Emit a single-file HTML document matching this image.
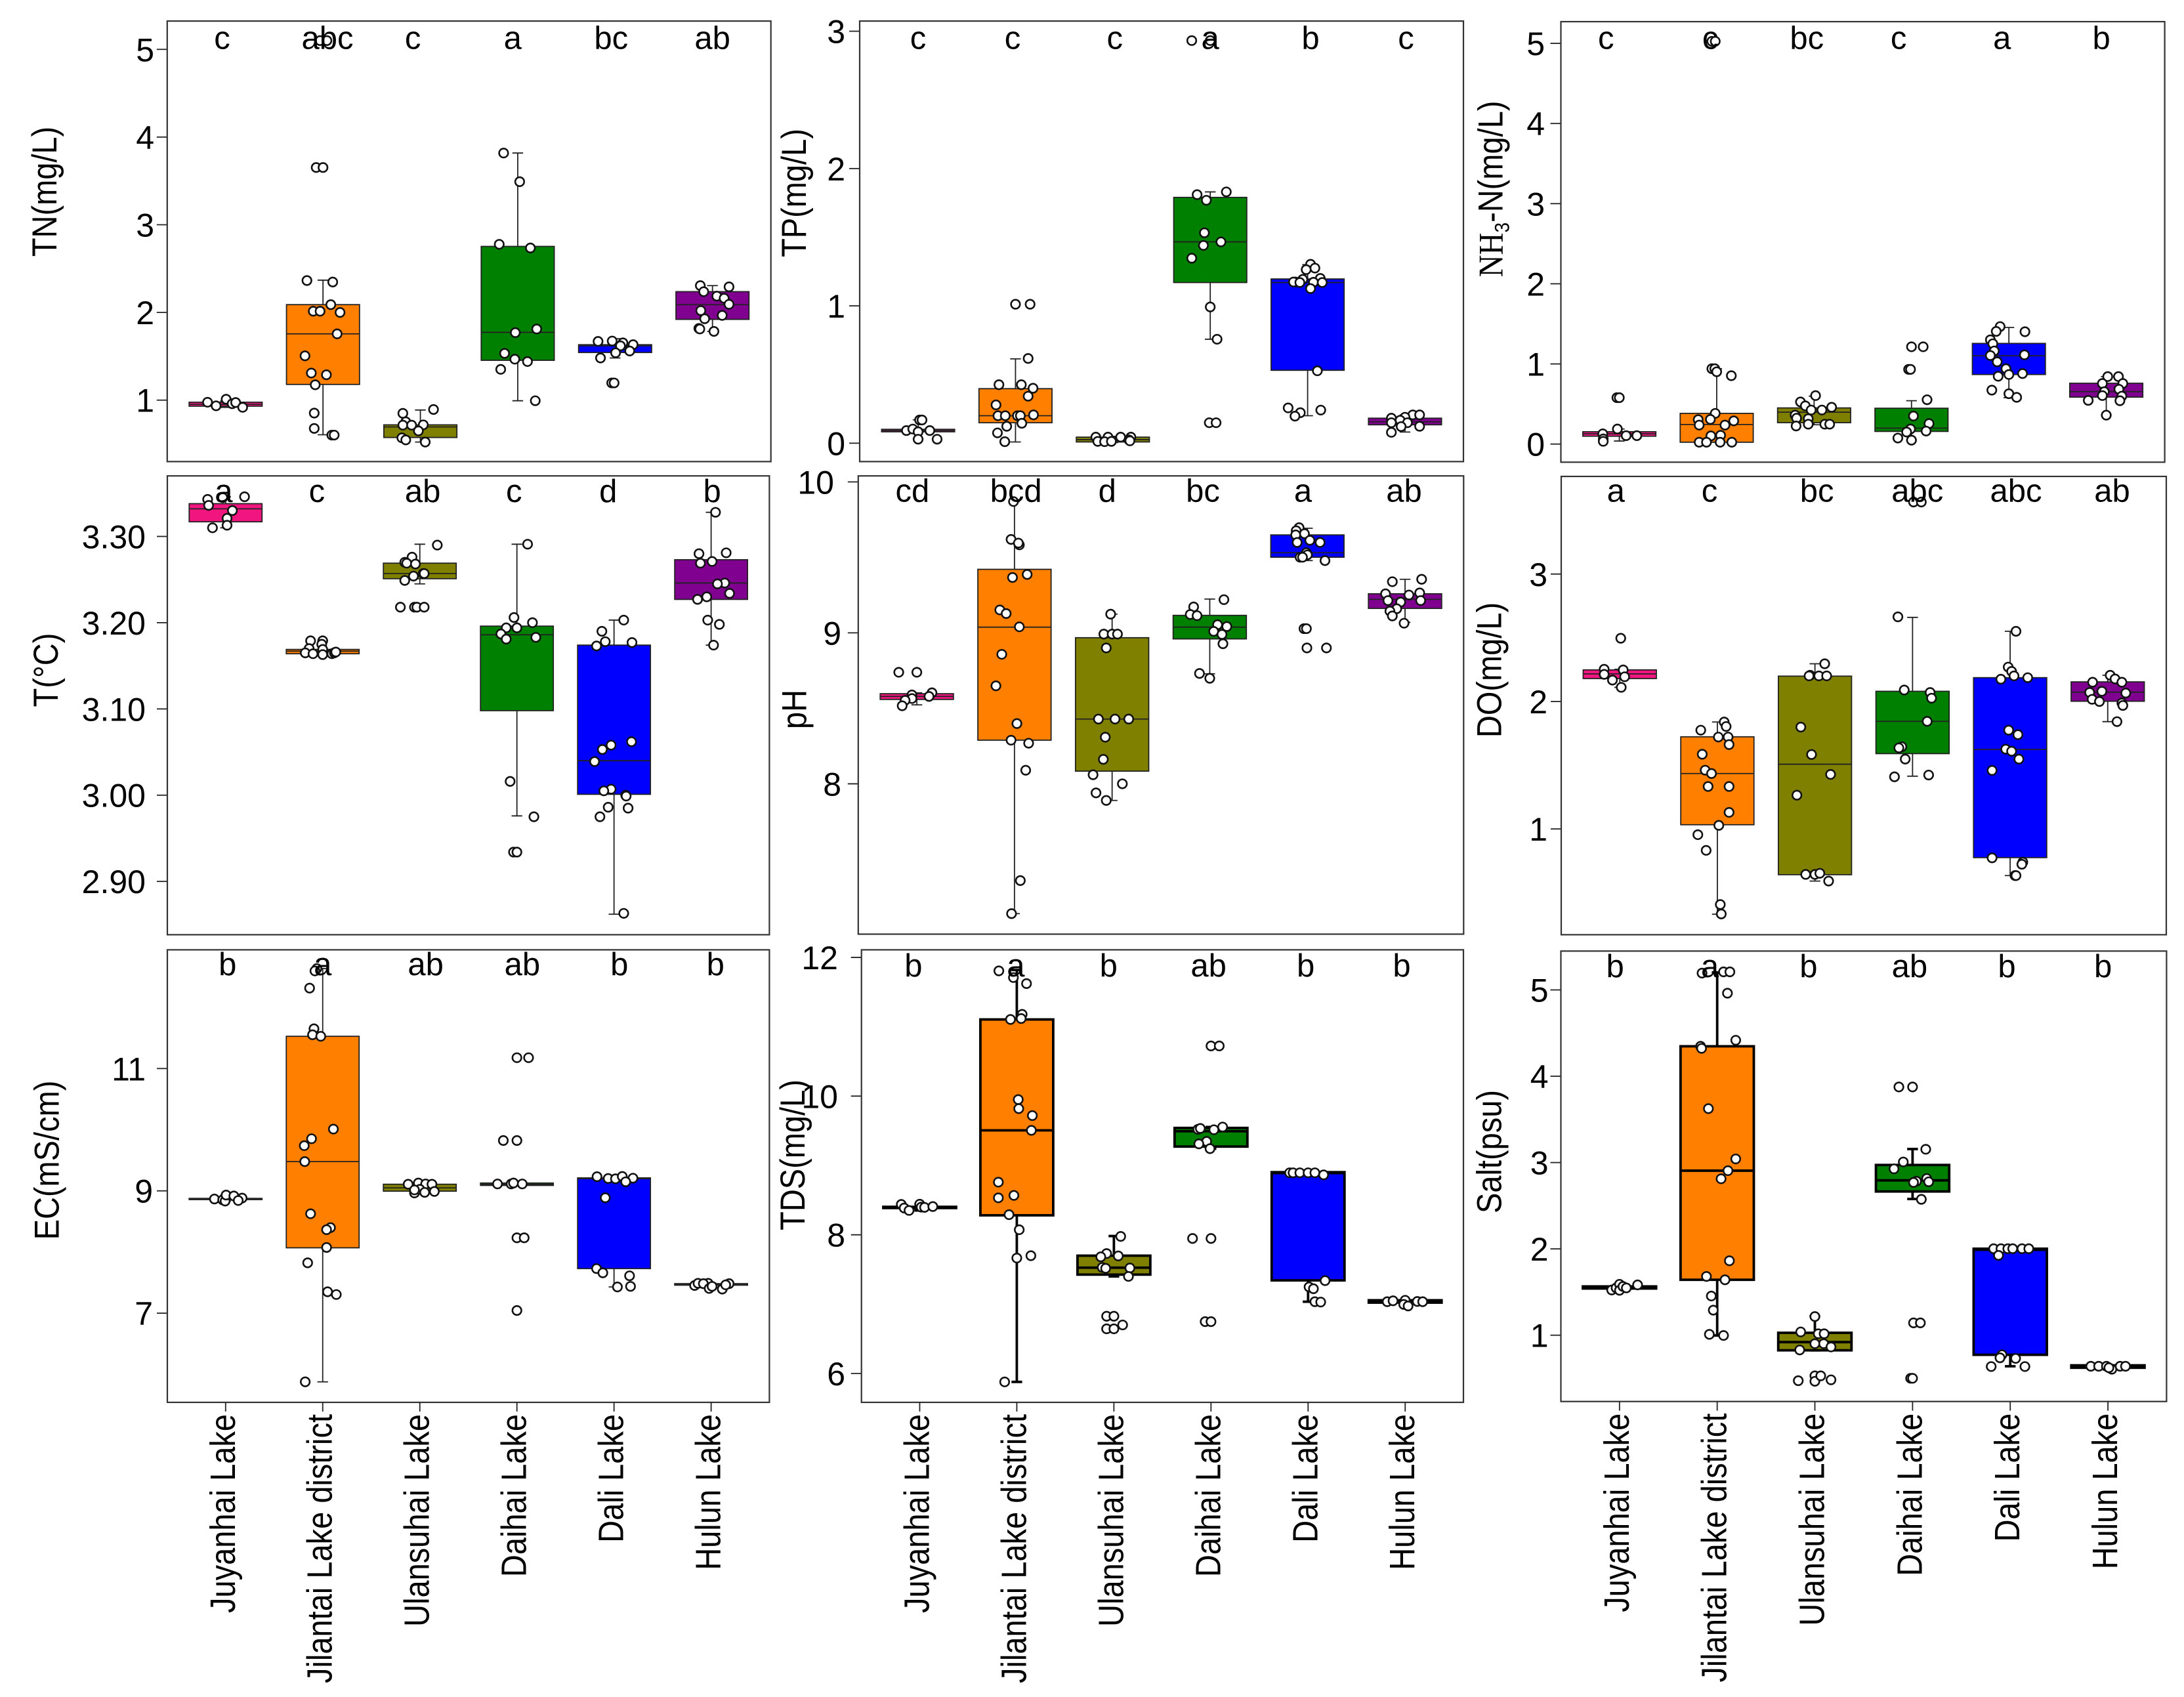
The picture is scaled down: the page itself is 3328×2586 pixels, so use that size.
<!DOCTYPE html>
<html lang="en">
<head>
<meta charset="utf-8">
<title>Water quality boxplots by lake</title>
<style>
html,body{margin:0;padding:0;background:#fff;}
svg{display:block;}
text{font-family:"Liberation Sans",sans-serif;fill:#000;}
</style>
</head>
<body>
<svg id="chart" xmlns="http://www.w3.org/2000/svg" width="3328" height="2586" viewBox="0 0 3328 2586"></svg>
<script>
const categories = ['Juyanhai Lake','Jilantai Lake district','Ulansuhai Lake','Daihai Lake','Dali Lake','Hulun Lake'];
const categoryColors = ['#f0157f','#ff7f00','#808000','#008000','#0000ff','#800090'];

/* TN */
const tnTicks = ['1','2','3','4','5'];
const tnLetters = ['c','abc','c','a','bc','ab'];
const tnLetterShift = [-.036,.046,-.077,-.052,-.041,0];
const tnLow = [.918,.605,.522,.993,1.481,1.784];
const tnQ1 = [.931,1.179,.574,1.454,1.543,1.921];
const tnMedian = [.952,1.756,.694,1.773,1.619,2.089];
const tnQ3 = [.976,2.089,.718,2.753,1.632,2.237];
const tnHigh = [.99,2.368,.887,3.818,1.7,2.306];
const tnValues = [
 [.976,.935,1.01,.959,.973,.918],
 [5.10,5.10,3.653,3.653,2.364,2.347,2.089,2.014,2.014,2.0,1.756,1.505,1.309,1.289,1.175,.852,.677,.601,.601],
 [.893,.849,.753,.715,.715,.718,.649,.570,.546,.522],
 [3.818,3.491,2.777,2.735,1.811,1.770,1.533,1.467,1.44,1.351,.993],
 [1.67,1.674,1.653,1.619,1.632,1.56,1.54,1.481,1.196,1.196],
 [2.306,2.237,2.292,2.186,2.162,2.093,2.021,1.966,1.928,1.818,1.811,1.784]];
const tnJitter = [
 [-.186,-.098,.005,.067,.103,.175],
 [-.03,.04,-.07,0,-.165,.1,.08,-.1,-.03,.175,.145,-.185,-.12,.035,-.08,-.09,-.09,.09,.115],
 [.135,-.18,-.15,-.18,-.09,.03,-.02,-.19,-.15,.05],
 [-.145,.02,-.19,.13,.195,-.025,-.135,-.03,.1,-.175,.18],
 [-.175,-.03,.08,.055,.185,.15,.005,-.15,-.035,-.01],
 [-.125,-.09,.17,.045,.12,.17,-.12,.1,-.08,-.14,-.13,.015]];

/* TP */
const tpTicks = ['0','1','2','3'];
const tpLetters = ['c','c','c','a','b','c'];
const tpLetterShift = [0,-.03,.02,0,.03,.01];
const tpLow = [.03,.009,.005,.757,.2,.081];
const tpQ1 = [.083,.149,.009,1.17,.531,.134];
const tpMedian = [.092,.2,.026,1.466,1.17,.156];
const tpQ3 = [.101,.397,.044,1.79,1.196,.182];
const tpHigh = [.17,.614,.05,1.83,1.3,.206];
const tpValues = [
 [.169,.169,.092,.103,.083,.092,.029,.029],
 [1.012,1.012,.617,.426,.426,.4,.342,.279,.2,.2,.2,.206,.2,.145,.123,.075,.011,.011],
 [.044,.044,.044,.044,.013,.011,.013,.024,.017],
 [2.932,2.932,1.83,1.81,1.769,1.532,1.466,1.44,1.347,.992,.757,.149,.149],
 [1.303,1.275,1.264,1.2,1.193,1.174,1.174,1.17,1.172,1.17,1.126,.527,.257,.222,.197,.241],
 [.206,.206,.182,.189,.167,.149,.149,.123,.121,.079]];
const tpJitter = [
 [.015,.04,-.12,-.055,0,.12,0,.195],
 [0,.15,.13,-.17,.06,.18,.13,-.2,-.18,-.105,.02,.185,.05,.065,-.09,-.185,-.11,-.11],
 [-.175,-.05,.08,.185,-.155,-.085,-.015,.165,.175],
 [-.19,0,.165,-.135,-.04,-.06,.11,-.07,-.19,0,.07,-.01,.06],
 [.03,.075,-.015,.13,-.05,-.125,-.145,-.08,.06,.15,.03,.1,-.2,-.075,-.13,.135],
 [.08,.15,-.14,0,-.05,-.14,.025,.15,-.04,-.14]];

/* NH3-N */
const nhTicks = ['0','1','2','3','4','5'];
const nhLetters = ['c','c','bc','c','a','b'];
const nhLetterShift = [-.137,-.066,-.075,-.132,-.07,-.05];
const nhLow = [.038,.023,.241,.049,.579,.361];
const nhQ1 = [.098,.023,.267,.158,.868,.586];
const nhMedian = [.128,.244,.398,.199,1.102,.654];
const nhQ3 = [.154,.383,.451,.447,1.256,.759];
const nhHigh = [.188,.94,.598,.541,1.455,.842];
const nhValues = [
 [.579,.579,.188,.128,.105,.105,.064,.034],
 [5.026,5.026,.94,.94,.902,.853,.383,.305,.308,.289,.237,.237,.102,.109,.023,.023,.023,.023],
 [.605,.526,.477,.459,.425,.425,.361,.323,.316,.226,.248,.248,.248],
 [1.214,1.214,.932,.932,.553,.35,.256,.188,.15,.162,.075,.049],
 [1.466,1.406,1.402,1.301,1.252,1.162,1.105,1.113,1.026,.94,.88,.868,.846,.673,.628,.583],
 [.842,.842,.756,.756,.684,.654,.605,.598,.541,.545,.361]];
const nhJitter = [
 [-.025,0,-.02,-.17,.07,.18,-.165,-.165],
 [-.05,-.015,-.05,-.02,0,.15,-.015,-.19,-.065,.175,-.18,.085,-.06,.04,-.18,-.105,.035,.155],
 [.015,-.14,-.09,.18,.08,-.03,-.195,-.18,-.06,-.185,-.06,.11,.16],
 [0,.12,-.03,-.01,.16,.02,.18,-.01,-.05,.15,-.14,0],
 [-.09,-.13,.165,-.19,-.165,-.15,-.19,.16,-.12,-.03,.14,0,-.11,-.175,0,.08],
 [.015,.125,-.04,.17,.13,-.02,-.04,.16,.14,-.185,0]];

/* T */
const tempTicks = ['2.90','3.00','3.10','3.20','3.30'];
const tempLetters = ['a','c','ab','c','d','b'];
const tempLetterShift = [-.02,-.06,.03,-.03,-.06,.01];
const tempLow = [3.31,3.163,3.245,2.976,2.862,3.174];
const tempQ1 = [3.317,3.164,3.251,3.098,3.001,3.227];
const tempMedian = [3.332,3.167,3.257,3.186,3.04,3.246];
const tempQ3 = [3.338,3.169,3.269,3.196,3.174,3.273];
const tempHigh = [3.346,3.179,3.291,3.291,3.203,3.328];
const tempValues = [
 [3.346,3.343,3.336,3.33,3.321,3.313,3.31,3.345],
 [3.179,3.179,3.175,3.17,3.169,3.165,3.164,3.163,3.164,3.165,3.166],
 [3.29,3.276,3.27,3.269,3.268,3.257,3.257,3.254,3.249,3.218,3.218,3.218,3.218],
 [3.291,3.206,3.2,3.194,3.194,3.187,3.183,3.181,3.016,2.975,2.934,2.934],
 [3.203,3.19,3.178,3.177,3.173,3.062,3.058,3.053,3.039,3.007,3.005,3.0,2.999,2.986,2.985,2.975,2.863],
 [3.328,3.28,3.281,3.269,3.271,3.246,3.245,3.234,3.23,3.227,3.203,3.198,3.174]];
const tempJitter = [
 [.195,-.185,-.175,.07,.015,.015,-.135,-.03],
 [-.125,0,-.01,-.14,0,-.18,-.1,0,.095,.12,.135],
 [.18,-.08,-.155,-.135,-.045,.035,.045,-.065,-.155,-.2,-.055,-.03,.045],
 [.11,-.03,.16,-.11,0,-.165,.195,-.11,-.07,.175,-.035,0],
 [.1,-.125,-.09,.185,-.18,.18,-.03,-.12,-.2,-.03,-.105,.12,.125,-.06,.145,-.145,.1],
 [.045,-.125,.155,-.11,.01,.14,.065,.19,-.045,-.14,-.035,.085,.025]];

/* pH */
const phTicks = ['8','9','10'];
const phLetters = ['cd','bcd','d','bc','a','ab'];
const phLetterShift = [-.045,.015,-.05,-.07,-.045,-.01];
const phLow = [8.523,7.14,7.89,8.729,9.479,9.07];
const phQ1 = [8.559,8.289,8.084,8.96,9.501,9.162];
const phMedian = [8.579,9.038,8.429,9.038,9.531,9.222];
const phQ3 = [8.597,9.421,8.968,9.116,9.649,9.259];
const phHigh = [8.603,9.87,9.124,9.224,9.693,9.355];
const phValues = [
 [8.739,8.739,8.603,8.589,8.579,8.565,8.553,8.517],
 [9.87,9.619,9.583,9.595,9.387,9.367,9.152,9.128,9.04,8.858,8.649,8.399,8.289,8.269,8.09,7.359,7.14],
 [9.124,8.992,8.992,8.992,8.9,8.429,8.429,8.429,8.309,8.162,8.06,8.0,7.94,7.89],
 [9.22,9.172,9.122,9.114,9.054,9.042,9.01,8.99,8.928,8.731,8.699],
 [9.697,9.677,9.657,9.649,9.613,9.599,9.599,9.531,9.517,9.501,9.501,9.479,9.028,9.028,8.9,8.9],
 [9.355,9.339,9.265,9.259,9.251,9.214,9.204,9.214,9.16,9.144,9.112,9.064]];
const phJitter = [
 [-.185,0,.155,-.05,.125,-.05,-.12,-.15],
 [-.01,-.035,.05,.04,.13,-.02,-.15,-.085,.05,-.13,-.19,.025,-.035,.145,.115,.06,-.03],
 [-.015,-.085,0,.055,-.06,-.14,.03,.17,-.07,-.09,-.195,.105,-.165,-.06],
 [.145,-.165,-.2,-.13,.08,.175,.04,.125,.135,-.105,0],
 [-.085,-.115,-.03,-.12,.025,.13,-.105,-.01,0,-.075,-.05,.18,-.035,-.01,-.005,.195],
 [.17,-.13,.15,-.2,.04,-.175,-.045,.16,-.085,-.155,-.13,-.01]];

/* DO */
const doTicks = ['1','2','3'];
const doLetters = ['a','c','bc','abc','abc','ab'];
const doLetterShift = [-.04,-.08,.02,.05,.06,.045];
const doLow = [2.111,.331,.591,1.414,.634,1.842];
const doQ1 = [2.18,1.033,.641,1.591,.775,2.002];
const doMedian = [2.217,1.435,1.508,1.844,1.624,2.073];
const doQ3 = [2.248,1.723,2.199,2.08,2.187,2.154];
const doHigh = [2.253,1.839,2.296,2.66,2.551,2.206];
const doValues = [
 [2.496,2.253,2.248,2.213,2.194,2.168,2.111],
 [1.839,1.804,1.775,1.721,1.721,1.662,1.586,1.461,1.435,1.333,1.333,1.13,1.028,.955,.832,.407,.333],
 [2.296,2.206,2.201,2.201,2.201,1.799,1.584,1.428,1.265,.643,.643,.652,.591],
 [2.664,2.09,2.071,2.026,1.844,1.645,1.636,1.548,1.423,1.409,3.565,3.565],
 [2.551,2.27,2.236,2.201,2.175,2.187,1.775,1.74,1.626,1.61,1.548,1.459,.773,.74,.723,.634,.634],
 [2.206,2.177,2.151,2.151,2.071,2.08,2.066,2.017,2.0,1.988,1.969,1.842]];
const doJitter = [
 [.01,-.16,.035,-.16,.05,-.075,.015],
 [.07,.09,-.17,.01,.11,.12,-.155,-.125,-.06,-.095,.12,.12,.015,-.2,-.115,.03,.04],
 [.1,-.05,-.06,.04,.12,-.145,-.035,.16,-.185,-.095,0,.05,.14],
 [-.15,-.085,.18,.195,.15,-.11,-.14,-.075,.165,-.185,.01,.09],
 [.06,-.02,.015,.04,-.095,.18,-.015,.08,-.045,.015,.09,-.185,-.185,.13,.12,.05,.06],
 [.025,.075,-.155,.145,-.185,-.06,.185,-.16,-.085,.145,.155,.095]];

/* EC */
const ecTicks = ['7','9','11'];
const ecLetters = ['b','a','ab','ab','b','b'];
const ecLetterShift = [.02,0,.06,.055,.055,.045];
const ecLow = [8.833,5.877,8.966,9.089,7.429,7.394];
const ecQ1 = [8.857,8.069,8.995,9.089,7.729,7.458];
const ecMedian = [8.867,9.478,9.049,9.108,9.2,7.47];
const ecQ3 = [8.877,11.527,9.108,9.128,9.212,7.483];
const ecHigh = [8.931,12.635,9.128,9.128,9.236,7.488];
const ecValues = [
 [8.867,8.852,8.833,8.931,8.916,8.882,8.842],
 [12.635,12.596,12.315,11.65,11.552,11.527,10.01,9.852,9.739,9.478,8.626,8.399,8.365,8.074,7.823,7.35,7.305,5.877],
 [9.108,9.128,9.113,9.108,8.966,9.025,8.975,8.99,9.015],
 [11.177,11.177,9.823,9.823,9.113,9.113,9.128,9.113,8.232,8.232,7.044],
 [9.232,9.202,9.197,9.236,9.207,9.148,8.887,7.729,7.66,7.611,7.429,7.438],
 [7.453,7.488,7.488,7.483,7.404,7.394,7.483,7.463,7.438]];
const ecJitter = [
 [-.115,-.03,-.005,.005,.085,.17,.13],
 [-.06,-.08,-.135,-.09,-.105,-.02,.11,-.115,-.19,-.185,-.125,.08,.04,.04,-.155,.05,.14,-.18],
 [-.12,-.015,.06,.125,-.055,0,.05,.15,-.055],
 [0,.12,-.14,0,-.2,-.06,-.035,.055,0,.075,0],
 [-.175,-.06,.015,.085,.195,.12,-.09,-.18,-.115,.16,.035,.17],
 [-.17,-.135,-.03,-.08,-.02,.115,.185,.15,.01]];

/* TDS */
const tdsTicks = ['6','8','10','12'];
const tdsLetters = ['b','a','b','ab','b','b'];
const tdsLetterShift = [-.065,-.01,-.055,-.025,-.025,-.035];
const tdsLow = [8.351,5.879,7.4,9.242,7.035,7.0];
const tdsQ1 = [8.386,8.281,7.426,9.272,7.343,7.022];
const tdsMedian = [8.395,9.506,7.526,9.493,8.89,7.04];
const tdsQ3 = [8.403,11.105,7.699,9.541,8.903,7.056];
const tdsHigh = [8.442,11.818,7.982,9.554,8.903,7.056];
const tdsValues = [
 [8.438,8.386,8.351,8.442,8.399,8.395,8.407],
 [11.805,11.709,11.622,11.179,11.105,11.118,9.95,9.819,9.719,9.506,8.759,8.568,8.533,8.29,8.073,7.699,7.665,5.879],
 [7.977,7.73,7.682,7.695,7.53,7.517,7.521,7.4,6.826,6.826,6.7,6.644,6.644],
 [10.723,10.723,9.52,9.533,9.515,9.554,9.346,9.311,9.242,7.947,7.947,6.748,6.748],
 [8.894,8.894,8.894,8.894,8.894,8.864,7.339,7.248,7.222,7.035,7.03],
 [7.035,7.048,7.056,6.996,6.974,7.039,7.035]];
const tdsJitter = [
 [-.19,-.16,-.11,0,.015,.05,.135],
 [-.185,-.035,.1,.055,-.065,.045,.015,.02,.16,.15,-.19,-.03,-.19,-.08,.025,.145,0,-.125],
 [.07,-.075,-.135,.045,-.12,-.085,.165,.15,-.075,0,.09,-.075,0],
 [0,.085,-.135,-.11,.03,.12,-.045,-.125,-.01,-.19,0,-.06,0],
 [-.19,-.155,-.085,0,.07,.16,.175,.01,.055,.07,.13],
 [-.185,-.125,0,-.015,.03,.125,.18]];

/* Salt */
const saltTicks = ['1','2','3','4','5'];
const saltLetters = ['b','a','b','ab','b','b'];
const saltLetterShift = [-.045,-.075,-.065,-.03,-.035,-.05];
const saltLow = [1.52,.997,.825,2.578,.64,.606];
const saltQ1 = [1.541,1.642,.825,2.665,.773,.623];
const saltMedian = [1.553,2.906,.92,2.794,1.99,.637];
const saltQ3 = [1.565,4.347,1.028,2.972,2.002,.651];
const saltHigh = [1.59,5.202,1.22,3.157,2.002,.651];
const saltValues = [
 [1.524,1.548,1.59,1.52,1.565,1.548,1.583],
 [5.195,5.209,5.209,4.962,4.417,4.347,4.323,3.625,3.042,2.906,2.812,1.862,1.681,1.642,1.454,1.29,1.01,.997],
 [1.216,1.038,1.017,1.017,.902,.902,.864,.829,.529,.466,.529,.473,.483],
 [3.154,3.007,2.927,2.815,2.784,2.777,2.77,2.574,1.143,1.143,.501,.501,3.876,3.876],
 [2.002,2.002,2.002,2.002,2.002,2.002,1.925,.773,.738,.731,.637,.637],
 [.64,.64,.64,.606,.64,.64,.623]];
const saltJitter = [
 [-.08,-.035,0,0,.035,.07,.185],
 [-.155,.065,.13,.105,.19,-.17,-.16,-.09,.19,.11,.04,.125,-.11,.08,-.06,-.04,-.08,.065],
 [0,-.145,.035,.095,.09,0,.165,-.155,0,0,.06,-.17,.165],
 [.135,-.095,-.19,.145,.04,.165,.01,.09,.01,.08,-.02,0,-.14,0],
 [-.17,-.095,-.025,.025,.12,.19,-.12,-.085,-.105,.055,-.195,.15],
 [-.175,-.095,-.015,.04,.125,.18,.01]];

const SVGNS = 'http://www.w3.org/2000/svg';
const root = document.getElementById('chart');

function mk(parent, tag, attrs, text) {
  const el = document.createElementNS(SVGNS, tag);
  for (const k in attrs) el.setAttribute(k, attrs[k]);
  if (text !== undefined) el.textContent = text;
  parent.appendChild(el);
  return el;
}

function drawPanel(p) {
  const g = mk(root, 'g', {});
  
  

  /* axis functions */
  const xScale = c => p.left + (c - 0.4) / 6.2 * (p.right - p.left);
  const xUnit = (p.right - p.left) / 6.2;
  const yScale = v => p.bottom - (v - p.yMin) / (p.yMax - p.yMin) * (p.bottom - p.top);

  /* y ticks */
  p.ticks.forEach(label => {
    const y = yScale(parseFloat(label));
    const t = mk(g, 'line', {x1: p.left - 16, x2: p.left, y1: y, y2: y, stroke: '#222', 'stroke-width': 1.8});
    
    
    const endX = label.length > 1 ? p.tickLabelRight - 11 : p.tickLabelRight;
    const lb = mk(g, 'text', {x: endX, y: y + 18, 'text-anchor': 'end', 'font-size': 50}, label);
    
    
  });

  /* boxes */
  categories.forEach((cat, i) => {
    const cx = xScale(i + 1);
    const halfBox = xUnit * 0.375;
    const halfCap = xUnit * 0.055;
    const box = mk(g, 'g', {});
    
    
    const sw = p.stroke;
    const col = p.stroke > 2 ? '#000' : '#222';
    const wh = mk(box, 'path', {
      d: 'M' + cx + ' ' + yScale(p.high[i]) + 'V' + yScale(p.q3[i]) +
         'M' + cx + ' ' + yScale(p.q1[i]) + 'V' + yScale(p.low[i]) +
         'M' + (cx - halfCap) + ' ' + yScale(p.high[i]) + 'H' + (cx + halfCap) +
         'M' + (cx - halfCap) + ' ' + yScale(p.low[i]) + 'H' + (cx + halfCap),
      stroke: col, 'stroke-width': sw, fill: 'none'});
    
    
    const yTop = yScale(p.q3[i]);
    const yBot = yScale(p.q1[i]);
    const r = mk(box, 'rect', {x: cx - halfBox, y: yTop, width: halfBox * 2, height: Math.max(yBot - yTop, 0.5),
      fill: categoryColors[i], stroke: col, 'stroke-width': sw});
    
    
    const m = mk(box, 'line', {x1: cx - halfBox, x2: cx + halfBox, y1: yScale(p.median[i]), y2: yScale(p.median[i]),
      stroke: col, 'stroke-width': sw});
    
    
  });

  /* jittered points */
  categories.forEach((cat, i) => {
    p.values[i].forEach((v, j) => {
      const c = mk(g, 'circle', {cx: xScale(i + 1 + p.jitter[i][j]), cy: yScale(v), r: 6.8,
        fill: '#fff', stroke: '#111', 'stroke-width': 2.6});
      
      
    });
  });

  /* significance letters */
  p.letters.forEach((s, i) => {
    const t = mk(g, 'text', {x: xScale(i + 1 + p.letterShift[i]), y: p.letterY + 1, 'text-anchor': 'middle', 'font-size': 49}, s);
    
    
  });

  /* frame */
  const f = mk(g, 'rect', {x: p.left, y: p.top, width: p.right - p.left, height: p.bottom - p.top,
    fill: 'none', stroke: '#333', 'stroke-width': 2.2});
  
  

  /* y title */
  const title = mk(g, 'text', {transform: 'translate(' + p.titleX + ' ' + p.titleY + ') rotate(-90) scale(1 1.12)',
    'text-anchor': 'middle', 'font-size': 47});
  
  
  if (p.key === 'nh3') {
    mk(title, 'tspan', {style: 'font-family:"Liberation Serif",serif'}, 'NH');
    mk(title, 'tspan', {dy: 9, 'font-size': 28}, '3');
    mk(title, 'tspan', {dy: -9}, '-N(mg/L)');
  } else {
    title.textContent = p.title;
  }

  /* x axis on bottom row */
  if (p.showX) {
    categories.forEach((cat, i) => {
      const x = xScale(i + 1);
      const t = mk(g, 'line', {x1: x, x2: x, y1: p.bottom, y2: p.bottom + 14, stroke: '#222', 'stroke-width': 1.8});
      
      
      const lb = mk(g, 'text', {transform: 'translate(' + (x + 14) + ' ' + (p.bottom + 18) + ') rotate(-90) scale(1 1.14)',
        'text-anchor': 'end', 'font-size': 47}, cat);
      
      
    });
  }
}

drawPanel({key:'tn', title:'TN(mg/L)', left:254.8, right:1174.7, top:32.1, bottom:703.4, yMin:.299, yMax:5.323,
  ticks:tnTicks, letters:tnLetters, letterShift:tnLetterShift, low:tnLow, q1:tnQ1, median:tnMedian, q3:tnQ3, high:tnHigh,
  values:tnValues, jitter:tnJitter, stroke:1.8, tickLabelRight:235, letterY:73.5, titleX:86, titleY:292});
drawPanel({key:'tp', title:'TP(mg/L)', left:1310, right:2230, top:32.1, bottom:703.4, yMin:-.134, yMax:3.074,
  ticks:tpTicks, letters:tpLetters, letterShift:tpLetterShift, low:tpLow, q1:tpQ1, median:tpMedian, q3:tpQ3, high:tpHigh,
  values:tpValues, jitter:tpJitter, stroke:1.8, tickLabelRight:1288, letterY:73.5, titleX:1228, titleY:294});
drawPanel({key:'nh3', title:'NH3-N(mg/L)', left:2378.5, right:3298.6, top:33, bottom:704.3, yMin:-.226, yMax:5.271,
  ticks:nhTicks, letters:nhLetters, letterShift:nhLetterShift, low:nhLow, q1:nhQ1, median:nhMedian, q3:nhQ3, high:nhHigh,
  values:nhValues, jitter:nhJitter, stroke:1.8, tickLabelRight:2354, letterY:73.5, titleX:2289.5, titleY:288});
drawPanel({key:'temperature', title:'T(°C)', left:255, right:1172.4, top:725.2, bottom:1424.4, yMin:2.8382, yMax:3.3702,
  ticks:tempTicks, letters:tempLetters, letterShift:tempLetterShift, low:tempLow, q1:tempQ1, median:tempMedian, q3:tempQ3, high:tempHigh,
  values:tempValues, jitter:tempJitter, stroke:1.8, tickLabelRight:233, letterY:764, titleX:88, titleY:1021});
drawPanel({key:'ph', title:'pH', left:1307.8, right:2230.3, top:725.2, bottom:1423.5, yMin:7.004, yMax:10.04,
  ticks:phTicks, letters:phLetters, letterShift:phLetterShift, low:phLow, q1:phQ1, median:phMedian, q3:phQ3, high:phHigh,
  values:phValues, jitter:phJitter, stroke:1.8, tickLabelRight:1282, letterY:763.7, titleX:1228.6, titleY:1081});
drawPanel({key:'do', title:'DO(mg/L)', left:2379, right:3301, top:726, bottom:1424.4, yMin:.170, yMax:3.766,
  ticks:doTicks, letters:doLetters, letterShift:doLetterShift, low:doLow, q1:doQ1, median:doMedian, q3:doQ3, high:doHigh,
  values:doValues, jitter:doJitter, stroke:1.8, tickLabelRight:2358, letterY:763.7, titleX:2287.4, titleY:1021});
drawPanel({key:'ec', title:'EC(mS/cm)', left:255, right:1172.4, top:1447.4, bottom:2137, yMin:5.542, yMax:12.941,
  ticks:ecTicks, letters:ecLetters, letterShift:ecLetterShift, low:ecLow, q1:ecQ1, median:ecMedian, q3:ecQ3, high:ecHigh,
  values:ecValues, jitter:ecJitter, stroke:1.8, tickLabelRight:233, letterY:1485, titleX:89.5, titleY:1768, showX:true});
drawPanel({key:'tds', title:'TDS(mg/L)', left:1312.7, right:2230, top:1447.4, bottom:2137, yMin:5.584, yMax:12.109,
  ticks:tdsTicks, letters:tdsLetters, letterShift:tdsLetterShift, low:tdsLow, q1:tdsQ1, median:tdsMedian, q3:tdsQ3, high:tdsHigh,
  values:tdsValues, jitter:tdsJitter, stroke:3.8, tickLabelRight:1288, letterY:1487, titleX:1225.8, titleY:1760, showX:true});
drawPanel({key:'salt', title:'Salt(psu)', left:2378.5, right:3301.4, top:1449.3, bottom:2135.7, yMin:.232, yMax:5.45,
  ticks:saltTicks, letters:saltLetters, letterShift:saltLetterShift, low:saltLow, q1:saltQ1, median:saltMedian, q3:saltQ3, high:saltHigh,
  values:saltValues, jitter:saltJitter, stroke:3.8, tickLabelRight:2359.5, letterY:1488, titleX:2287.4, titleY:1755, showX:true});
</script>
</body>
</html>
